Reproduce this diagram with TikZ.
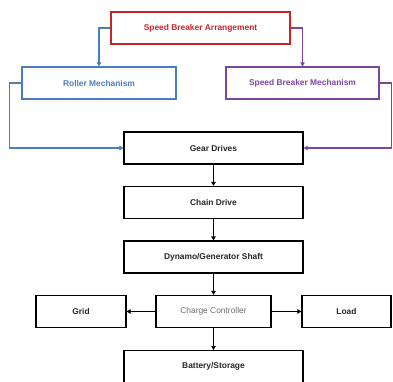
\documentclass[tikz,border=0pt]{standalone}
\usepackage{fontspec}
\setmainfont{Liberation Sans}
\usetikzlibrary{arrows.meta}
\definecolor{cred}{HTML}{C8232B}
\definecolor{cblue}{HTML}{4A7EBB}
\definecolor{cpurp}{HTML}{7E44A0}
\definecolor{cgray}{HTML}{6E6E6E}
\tikzset{
  blk/.style={draw, line width=1.2pt, minimum height=32pt, inner sep=0pt, font=\fontsize{8.4}{9}\selectfont\bfseries, text=black!85},
  arr/.style={line width=1.3pt, -{Triangle[length=4pt,width=4.5pt]}},
}
\begin{document}
\begin{tikzpicture}[x=1pt,y=-1pt]
\useasboundingbox (0,0) rectangle (393,382);
\clip (0,0) rectangle (393,382);
\node[blk, draw=cred, text=cred, minimum width=179pt] (top) at (200.5,28) {Speed Breaker Arrangement};
\node[blk, draw=cblue, text=cblue, minimum width=154pt] (roll) at (99,83) {Roller Mechanism};
\node[blk, draw=cpurp, text=cpurp, minimum width=153pt] (sbm) at (302.5,83) {Speed Breaker Mechanism};
\node[blk, minimum width=179pt] (gear) at (213.5,148) {Gear Drives};
\node[blk, minimum width=179pt] (chain) at (213.5,202.5) {Chain Drive};
\node[blk, minimum width=179pt] (dyn) at (213.5,257) {Dynamo/Generator Shaft};
\node[blk, minimum width=115pt, font=\fontsize{8.4}{9}\selectfont, text=cgray] (cc) at (213.5,311.5) {Charge Controller};
\node[blk, minimum width=90pt] (grid) at (81,311.5) {Grid};
\node[blk, minimum width=89pt] (load) at (346.5,311.5) {Load};
\node[blk, minimum width=179pt, minimum height=40pt, anchor=north] (bat) at (213.5,350) {};
\node[font=\fontsize{8.4}{9}\selectfont\bfseries, text=black!85] (battxt) at (213.5,366) {Battery/Storage};
\draw[arr, cblue] (top.west) -| (roll.north);
\draw[arr, cpurp] (top.east) -| (sbm.north);
\draw[arr, cblue] (roll.west) -- ++(-12,0) |- (gear.west);
\draw[arr, cpurp] (sbm.east) -- ++(12,0) |- (gear.east);
\draw[arr] (gear) -- (chain);
\draw[arr] (chain) -- (dyn);
\draw[arr] (dyn) -- (cc);
\draw[arr] (cc) -- (grid);
\draw[arr] (cc) -- (load);
\draw[arr] (cc) -- (bat);
\end{tikzpicture}
\end{document}
